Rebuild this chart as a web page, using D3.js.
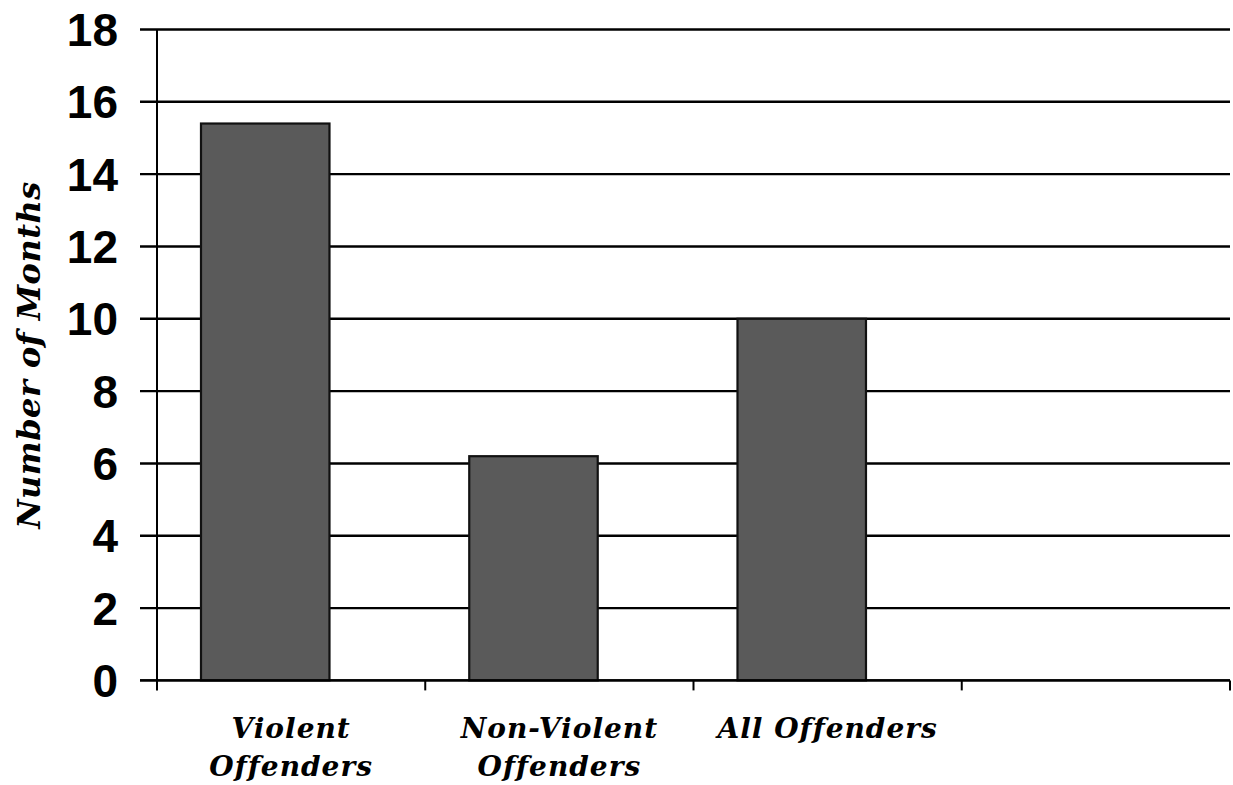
<!DOCTYPE html>
<html><head><meta charset="utf-8">
<script src="https://cdn.jsdelivr.net/npm/d3@7"></script>
<style>body{margin:0;background:#fff}svg{display:block}</style>
</head><body>
<svg id="c" width="1233" height="785"></svg>
<script>
const categories = ["Violent Offenders", "Non-Violent Offenders", "All Offenders", ""];
const labelLines = [["Violent", "Offenders"], ["Non-Violent", "Offenders"], ["All Offenders"], []];
const values = [15.4, 6.2, 10.0, null];
const yTicks = [0, 2, 4, 6, 8, 10, 12, 14, 16, 18];
const yTitle = "Number of Months";

const svg = d3.select("#c");
const L = 157, R = 1230, T = 29.5, B = 680.4;
const x = d3.scaleBand().domain(categories).range([L, R]).padding(0);
const y = d3.scaleLinear().domain([0, 18]).range([B, T]);
const bw = x.bandwidth();

// gridlines
svg.append("g").selectAll("line").data(yTicks).join("line")
  .attr("x1", 140).attr("x2", R).attr("y1", d => y(d)).attr("y2", d => y(d))
  .attr("stroke", "#000").attr("stroke-width", 2.4);

// bars
svg.append("g").selectAll("rect").data(categories.map((c, i) => ({c, v: values[i]})).filter(d => d.v != null))
  .join("rect")
  .attr("x", d => x(d.c) + bw * 0.164)
  .attr("width", bw * 0.479)
  .attr("y", d => y(d.v))
  .attr("height", d => y(0) - y(d.v))
  .attr("fill", "#5a5a5a").attr("stroke", "#111").attr("stroke-width", 2.2);

// y axis line
svg.append("line").attr("x1", L).attr("x2", L).attr("y1", T).attr("y2", B)
  .attr("stroke", "#000").attr("stroke-width", 2);
// x axis line
svg.append("line").attr("x1", 140).attr("x2", R).attr("y1", B).attr("y2", B)
  .attr("stroke", "#000").attr("stroke-width", 2.4);
// x ticks at band boundaries
const bounds = categories.map(c => x(c)).concat([R]);
svg.append("g").selectAll("line").data(bounds).join("line")
  .attr("x1", d => d).attr("x2", d => d).attr("y1", B).attr("y2", B + 10)
  .attr("stroke", "#000").attr("stroke-width", 2);

// y tick labels
svg.append("g").selectAll("text").data(yTicks).join("text")
  .attr("x", 118).attr("y", d => y(d)).attr("dy", "0.36em")
  .attr("text-anchor", "end")
  .attr("font-family", "Liberation Sans, Arial, sans-serif")
  .attr("font-weight", "bold").attr("font-size", 46)
  .text(d => d);

// category labels
const cl = svg.append("g").selectAll("text").data(categories.map((c, i) => ({c, lines: labelLines[i]}))).join("text")
  .attr("text-anchor", "middle")
  .attr("font-family", "DejaVu Serif, serif")
  .attr("font-weight", "bold").attr("font-style", "italic").attr("font-size", 28)
  .attr("letter-spacing", 1)
  .attr("transform", d => `translate(${x(d.c) + bw / 2},738)`);
cl.selectAll("tspan").data(d => d.lines).join("tspan")
  .attr("x", 0).attr("y", (d, i) => i * 38).text(d => d);

// y title
svg.append("text")
  .attr("transform", "translate(40,355) rotate(-90)")
  .attr("text-anchor", "middle")
  .attr("font-family", "DejaVu Serif, serif")
  .attr("font-weight", "bold").attr("font-style", "italic").attr("font-size", 32)
  .attr("letter-spacing", 0.5)
  .text(yTitle);
</script>
</body></html>
